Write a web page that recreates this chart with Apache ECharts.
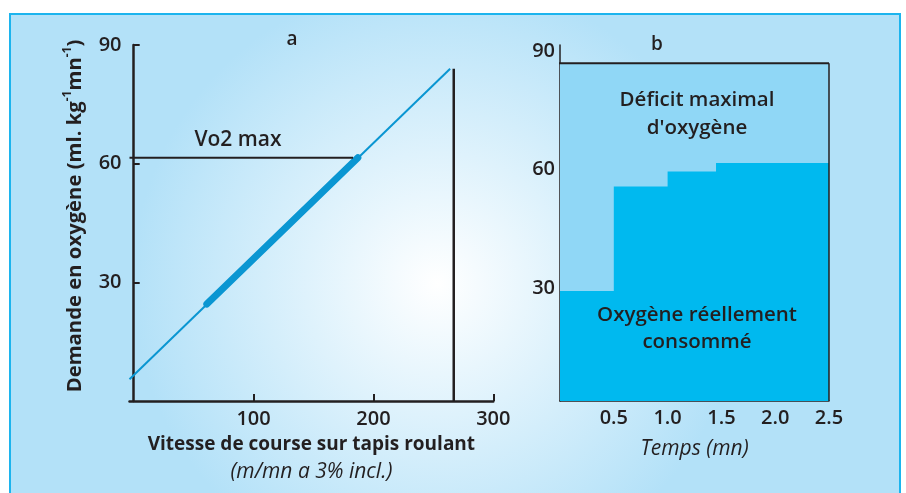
<!DOCTYPE html>
<html>
<head>
<meta charset="utf-8">
<script src="https://cdn.jsdelivr.net/npm/echarts@6/dist/echarts.min.js"></script>
<style>html,body{margin:0;padding:0;background:#fff}#c{width:906px;height:493px}</style>
</head>
<body>
<div id="c"></div>
<script>
// Panel a: oxygen demand vs treadmill speed
const speedTicks = [100, 200, 300];
const demandTicks = [30, 60, 90];
const demandLine = [[-3.5, 5.5], [264, 84]];
const measuredSegment = [[61, 24.5], [187, 61.5]];
const vo2maxLine = [[-3.5, 61.5], [183, 61.5]];
const maxDemandSpeed = [[267, 0], [267, 84]];
// Panel b: oxygen over time
const timeTicks = [0.5, 1.0, 1.5, 2.0, 2.5];
const panelBTicks = [30, 60, 90];
const demandLevel = [[-4.0, 85.4], [2.5, 85.4]];
const demandArea = [[0, 85.4], [2.5, 85.4]];
const demandRight = [[2.5, 0], [2.5, 85.4]];
const consumedSteps = [[0, 27.8], [0.5, 54.2], [1.0, 58], [1.45, 60.2], [2.5, 60.2]];

const FONT = 'Open Sans';
const DARK = '#231f20';
const MED = 600;
const chart = echarts.init(document.getElementById('c'), null, {renderer: 'canvas'});
chart.setOption({
  animation: false,
  backgroundColor: '#fff',
  textStyle: {fontFamily: FONT},
  grid: [
    {left: 129.5, top: 45, width: 363.8, height: 356},
    {left: 560, top: 45, width: 269, height: 356}
  ],
  xAxis: [
    {
      gridIndex: 0, type: 'value', min: -3.5, max: 300,
      splitLine: {show: false},
      axisLine: {lineStyle: {color: DARK, width: 2.5}},
      axisTick: {inside: true, length: 7, customValues: speedTicks, lineStyle: {color: DARK, width: 2}},
      axisLabel: {customValues: speedTicks, color: DARK, fontSize: 20, fontWeight: MED, fontFamily: FONT, margin: 8},
      name: '{b|Vitesse de course sur tapis roulant}\n{i|(m/mn a 3% incl.)}',
      nameLocation: 'middle', nameGap: 30,
      nameTextStyle: {
        rich: {
          b: {fontSize: 19, fontWeight: 'bold', color: DARK, fontFamily: FONT, lineHeight: 27, align: 'center'},
          i: {fontSize: 21, fontStyle: 'italic', color: DARK, fontFamily: FONT, lineHeight: 28, align: 'center'}
        }
      }
    },
    {
      gridIndex: 1, type: 'value', min: 0, max: 2.5,
      splitLine: {show: false},
      axisLine: {lineStyle: {color: DARK, width: 1.5}},
      axisTick: {show: false},
      axisLabel: {customValues: timeTicks, color: DARK, fontSize: 20, fontWeight: MED, fontFamily: FONT, margin: 7,
        formatter: v => v.toFixed(1)},
      name: 'Temps (mn)', nameLocation: 'middle', nameGap: 38,
      nameTextStyle: {fontSize: 21, fontStyle: 'italic', color: DARK, fontFamily: FONT}
    }
  ],
  yAxis: [
    {
      gridIndex: 0, type: 'value', min: 0, max: 90,
      splitLine: {show: false},
      axisLine: {lineStyle: {color: DARK, width: 2.5}},
      axisTick: {inside: true, length: 6, customValues: demandTicks, lineStyle: {color: DARK, width: 2}},
      axisLabel: {customValues: demandTicks, color: DARK, fontSize: 20, fontWeight: MED, fontFamily: FONT, margin: 8}
    },
    {
      gridIndex: 1, type: 'value', min: 0, max: 90,
      splitLine: {show: false},
      axisLine: {lineStyle: {color: DARK, width: 1.5}},
      axisTick: {show: false},
      axisLabel: {customValues: panelBTicks, color: DARK, fontFamily: FONT, margin: 5,
        formatter: v => '{p|' + v + '}',
        rich: {p: {fontSize: 20, fontWeight: MED, color: DARK, fontFamily: FONT, padding: [12, 0, 0, 0]}}}
    }
  ],
  graphic: [
    {
      type: 'rect', z: -10, silent: true,
      shape: {x: 10, y: 14, width: 890, height: 490},
      style: {
        fill: {
          type: 'radial', x: 0.48, y: 0.55, r: 0.62, global: false,
          colorStops: [{offset: 0, color: '#ffffff'}, {offset: 1, color: '#b3e1f8'}]
        },
        stroke: '#1cb4ee', lineWidth: 2
      }
    },
    {type: 'text', x: 75, y: 216, rotation: Math.PI / 2, z: 10,
      style: {
        text: 'Demande en oxygène (ml. kg{s|-1}mn{s|-1})',
        fontFamily: FONT, fontSize: 20.3, fontWeight: 'bold', fill: DARK,
        align: 'center', verticalAlign: 'middle', lineHeight: 26,
        rich: {s: {fontSize: 12, fontWeight: 'bold', fontFamily: FONT, verticalAlign: 'top', lineHeight: 26, fill: DARK}}
      }},
    {type: 'text', x: 292, y: 40, z: 10, style: {text: 'a', fontFamily: FONT, fontSize: 19, fontWeight: MED, fill: DARK, align: 'center', verticalAlign: 'middle'}},
    {type: 'text', x: 657, y: 45, z: 10, style: {text: 'b', fontFamily: FONT, fontSize: 19, fontWeight: MED, fill: DARK, align: 'center', verticalAlign: 'middle'}},
    {type: 'text', x: 238, y: 140, z: 10, style: {text: 'Vo2 max', fontFamily: FONT, fontSize: 21, fontWeight: MED, fill: DARK, align: 'center', verticalAlign: 'middle'}},
    {type: 'text', x: 697, y: 114, z: 10, style: {text: 'Déficit maximal\nd\'oxygène', fontFamily: FONT, fontSize: 20.5, fontWeight: MED, lineHeight: 28, fill: DARK, align: 'center', verticalAlign: 'middle'}},
    {type: 'text', x: 697, y: 329, z: 10, style: {text: 'Oxygène réellement\nconsommé', fontFamily: FONT, fontSize: 20.5, fontWeight: MED, lineHeight: 27, fill: DARK, align: 'center', verticalAlign: 'middle'}}
  ],
  series: [
    {type: 'line', xAxisIndex: 0, yAxisIndex: 0, data: demandLine, symbol: 'none', silent: true,
      lineStyle: {color: '#0a96d2', width: 2}},
    {type: 'line', xAxisIndex: 0, yAxisIndex: 0, data: measuredSegment, symbol: 'none', silent: true,
      lineStyle: {color: '#0a96d2', width: 7, cap: 'round'}},
    {type: 'line', xAxisIndex: 0, yAxisIndex: 0, data: vo2maxLine, symbol: 'none', silent: true,
      lineStyle: {color: DARK, width: 2}},
    {type: 'line', xAxisIndex: 0, yAxisIndex: 0, data: maxDemandSpeed, symbol: 'none', silent: true,
      lineStyle: {color: DARK, width: 2.5}},
    {type: 'line', xAxisIndex: 1, yAxisIndex: 1, data: demandArea, symbol: 'none', silent: true, z: 1,
      lineStyle: {width: 0}, areaStyle: {color: '#90d7f6', opacity: 1}},
    {type: 'line', xAxisIndex: 1, yAxisIndex: 1, data: consumedSteps, step: 'end', symbol: 'none', silent: true, z: 2,
      lineStyle: {width: 0}, areaStyle: {color: '#00b9ef', opacity: 1}},
    {type: 'line', xAxisIndex: 1, yAxisIndex: 1, data: demandLevel, symbol: 'none', silent: true, clip: false, z: 5,
      lineStyle: {color: DARK, width: 2}},
    {type: 'line', xAxisIndex: 1, yAxisIndex: 1, data: demandRight, symbol: 'none', silent: true, z: 5,
      lineStyle: {color: DARK, width: 1.5}}
  ]
});
</script>
</body>
</html>
